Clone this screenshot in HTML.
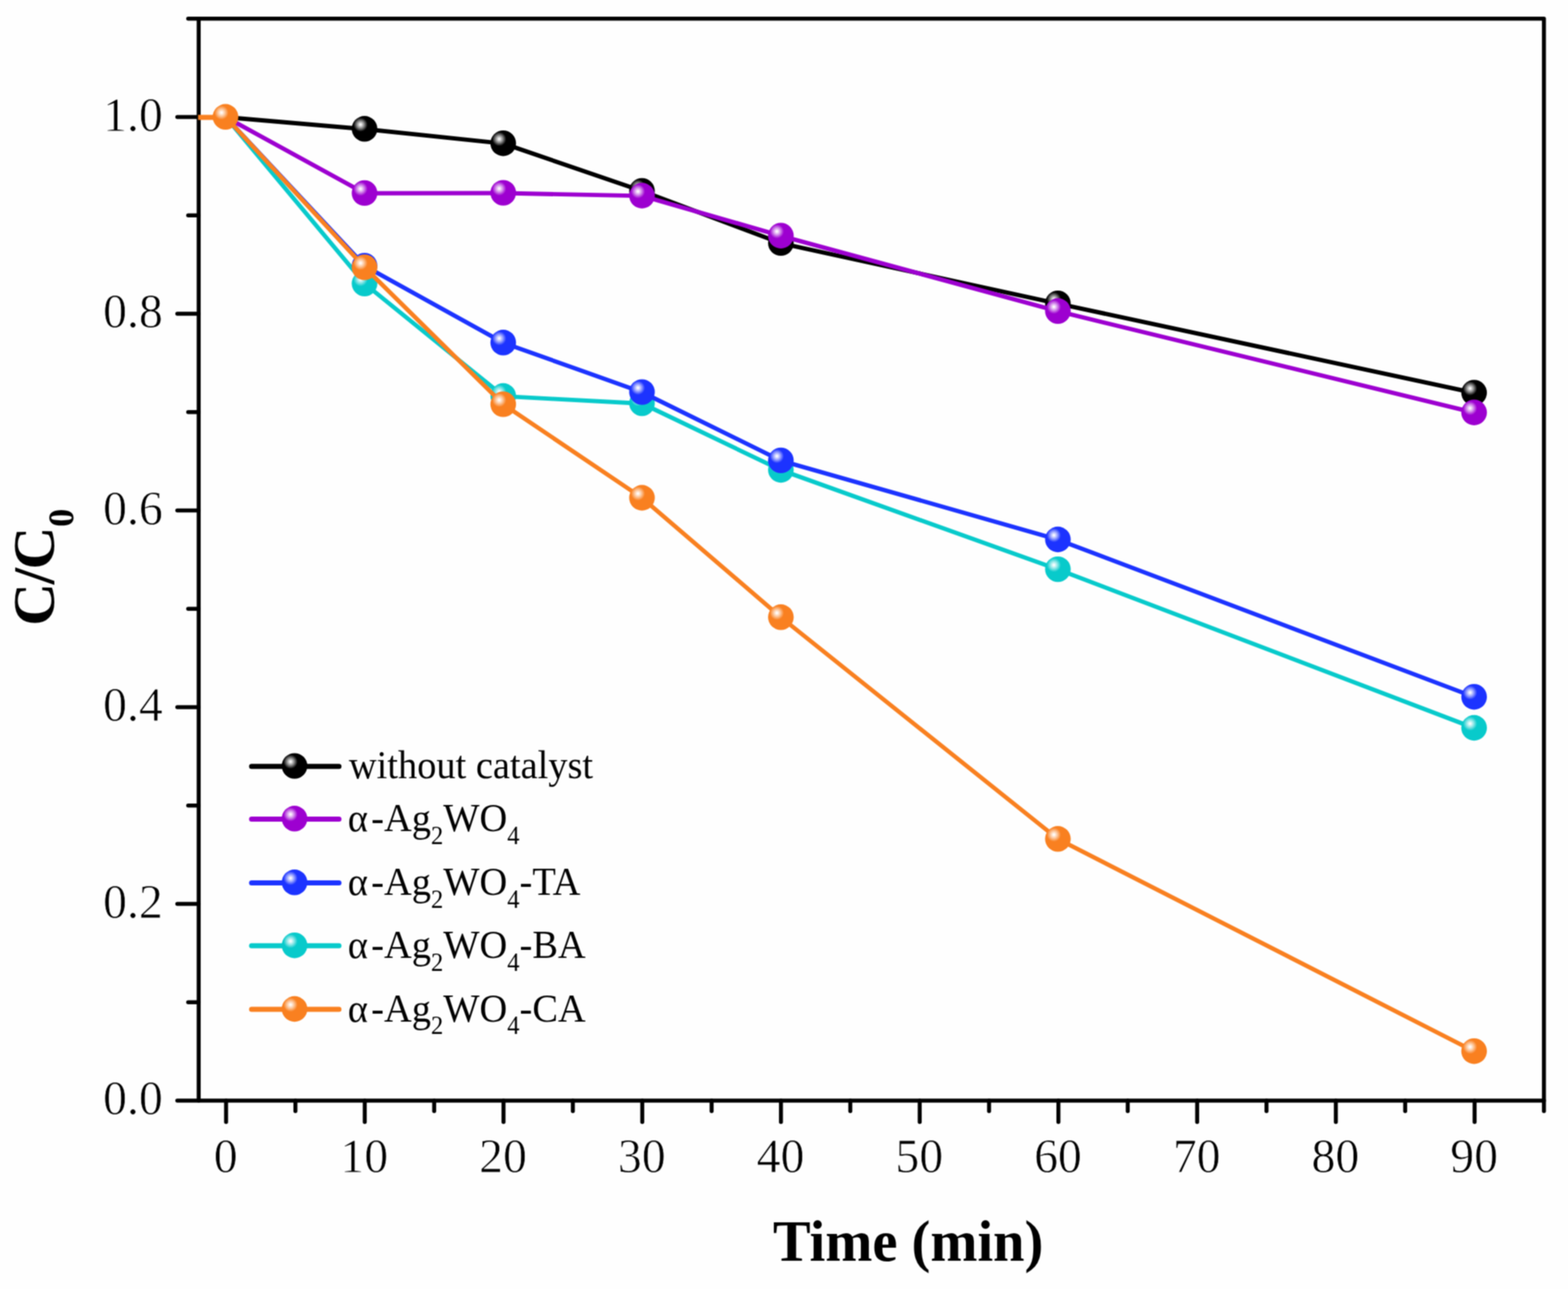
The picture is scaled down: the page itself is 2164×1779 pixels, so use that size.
<!DOCTYPE html>
<html lang="en"><head><meta charset="utf-8"><title>C/C0 versus Time (min)</title>
<style>
html,body{margin:0;padding:0;background:#fefefe;}
body{width:2164px;height:1779px;overflow:hidden;}
svg{display:block;}
text{font-family:"Liberation Serif", "Times New Roman", Times, serif;fill:#000;}
.tick{font-size:65.9px;stroke:#fefefe;stroke-width:0.8px;paint-order:fill stroke;}
.leg{font-size:53px;}
.sub{font-size:34px;}
.title{font-size:78px;font-weight:bold;}
.tsub{font-size:48px;font-weight:bold;}
</style></head><body>
<svg xmlns="http://www.w3.org/2000/svg" width="2164" height="1779" viewBox="0 0 2164 1779">
<defs>
<filter id="soft" x="0" y="0" width="2164" height="1779" filterUnits="userSpaceOnUse" color-interpolation-filters="sRGB"><feConvolveMatrix order="3" kernelMatrix="1 2 1 2 4 2 1 2 1" divisor="16" edgeMode="duplicate" preserveAlpha="true"/></filter>
<radialGradient id="gk" gradientUnits="objectBoundingBox" cx="0.344" cy="0.335" r="0.275" fx="0.344" fy="0.335"><stop offset="0" stop-color="#ffffff"/><stop offset="0.1" stop-color="#ffffff" stop-opacity="0.96"/><stop offset="0.55" stop-color="#ffffff" stop-opacity="0.5"/><stop offset="1" stop-color="#ffffff" stop-opacity="0"/></radialGradient>
<radialGradient id="gp" gradientUnits="objectBoundingBox" cx="0.344" cy="0.335" r="0.275" fx="0.344" fy="0.335"><stop offset="0" stop-color="#ffffff"/><stop offset="0.1" stop-color="#ffffff" stop-opacity="0.96"/><stop offset="0.55" stop-color="#ffffff" stop-opacity="0.5"/><stop offset="1" stop-color="#ffffff" stop-opacity="0"/></radialGradient>
<radialGradient id="gc" gradientUnits="objectBoundingBox" cx="0.344" cy="0.335" r="0.275" fx="0.344" fy="0.335"><stop offset="0" stop-color="#ffffff"/><stop offset="0.1" stop-color="#ffffff" stop-opacity="0.96"/><stop offset="0.55" stop-color="#ffffff" stop-opacity="0.5"/><stop offset="1" stop-color="#ffffff" stop-opacity="0"/></radialGradient>
<radialGradient id="gb" gradientUnits="objectBoundingBox" cx="0.344" cy="0.335" r="0.275" fx="0.344" fy="0.335"><stop offset="0" stop-color="#ffffff"/><stop offset="0.1" stop-color="#ffffff" stop-opacity="0.96"/><stop offset="0.55" stop-color="#ffffff" stop-opacity="0.5"/><stop offset="1" stop-color="#ffffff" stop-opacity="0"/></radialGradient>
<radialGradient id="go" gradientUnits="objectBoundingBox" cx="0.344" cy="0.335" r="0.275" fx="0.344" fy="0.335"><stop offset="0" stop-color="#ffffff"/><stop offset="0.1" stop-color="#ffffff" stop-opacity="0.96"/><stop offset="0.55" stop-color="#ffffff" stop-opacity="0.5"/><stop offset="1" stop-color="#ffffff" stop-opacity="0"/></radialGradient>
<clipPath id="plot"><rect x="273.4" y="25.8" width="1857.4" height="1493.1000000000001"/></clipPath>
</defs>
<g filter="url(#soft)">
<rect x="0" y="0" width="2164" height="1779" fill="#fefefe"/>
<g stroke="#000" stroke-width="5.5" fill="none" stroke-linecap="round" stroke-linejoin="round">
<path d="M274.2,25.8 H2130.8 V1518.9 H274.2 Z"/>
<line x1="312.0" y1="1518.9" x2="312.0" y2="1548.4"/>
<line x1="407.7" y1="1518.9" x2="407.7" y2="1533.4"/>
<line x1="503.4" y1="1518.9" x2="503.4" y2="1548.4"/>
<line x1="599.2" y1="1518.9" x2="599.2" y2="1533.4"/>
<line x1="694.9" y1="1518.9" x2="694.9" y2="1548.4"/>
<line x1="790.6" y1="1518.9" x2="790.6" y2="1533.4"/>
<line x1="886.4" y1="1518.9" x2="886.4" y2="1548.4"/>
<line x1="982.1" y1="1518.9" x2="982.1" y2="1533.4"/>
<line x1="1077.8" y1="1518.9" x2="1077.8" y2="1548.4"/>
<line x1="1173.5" y1="1518.9" x2="1173.5" y2="1533.4"/>
<line x1="1269.3" y1="1518.9" x2="1269.3" y2="1548.4"/>
<line x1="1365.0" y1="1518.9" x2="1365.0" y2="1533.4"/>
<line x1="1460.7" y1="1518.9" x2="1460.7" y2="1548.4"/>
<line x1="1556.4" y1="1518.9" x2="1556.4" y2="1533.4"/>
<line x1="1652.2" y1="1518.9" x2="1652.2" y2="1548.4"/>
<line x1="1747.9" y1="1518.9" x2="1747.9" y2="1533.4"/>
<line x1="1843.6" y1="1518.9" x2="1843.6" y2="1548.4"/>
<line x1="1939.3" y1="1518.9" x2="1939.3" y2="1533.4"/>
<line x1="2035.1" y1="1518.9" x2="2035.1" y2="1548.4"/>
<line x1="2130.8" y1="1518.9" x2="2130.8" y2="1533.4"/>
<line x1="274.2" y1="1518.9" x2="244.7" y2="1518.9"/>
<line x1="274.2" y1="1383.2" x2="259.7" y2="1383.2"/>
<line x1="274.2" y1="1247.4" x2="244.7" y2="1247.4"/>
<line x1="274.2" y1="1111.7" x2="259.7" y2="1111.7"/>
<line x1="274.2" y1="976.0" x2="244.7" y2="976.0"/>
<line x1="274.2" y1="840.2" x2="259.7" y2="840.2"/>
<line x1="274.2" y1="704.5" x2="244.7" y2="704.5"/>
<line x1="274.2" y1="568.7" x2="259.7" y2="568.7"/>
<line x1="274.2" y1="433.0" x2="244.7" y2="433.0"/>
<line x1="274.2" y1="297.3" x2="259.7" y2="297.3"/>
<line x1="274.2" y1="161.5" x2="244.7" y2="161.5"/>
<line x1="274.2" y1="25.8" x2="259.7" y2="25.8"/>
</g>
<g clip-path="url(#plot)">
<polyline points="311.6,161.7 503.5,178.2 694.9,198.1 886.4,263.8 1078.1,335.8 1460.4,419.1 2034.8,542.3" fill="none" stroke="#000000" stroke-width="5.9" stroke-linejoin="round" stroke-linecap="butt"/>
<circle cx="503.1" cy="177.8" r="17.7" fill="#000000"/><circle cx="503.1" cy="177.8" r="17.7" fill="url(#gk)"/>
<circle cx="694.5" cy="197.7" r="17.7" fill="#000000"/><circle cx="694.5" cy="197.7" r="17.7" fill="url(#gk)"/>
<circle cx="886.0" cy="263.4" r="17.7" fill="#000000"/><circle cx="886.0" cy="263.4" r="17.7" fill="url(#gk)"/>
<circle cx="1077.7" cy="335.4" r="17.7" fill="#000000"/><circle cx="1077.7" cy="335.4" r="17.7" fill="url(#gk)"/>
<circle cx="1460.0" cy="418.7" r="17.7" fill="#000000"/><circle cx="1460.0" cy="418.7" r="17.7" fill="url(#gk)"/>
<circle cx="2034.4" cy="541.9" r="17.7" fill="#000000"/><circle cx="2034.4" cy="541.9" r="17.7" fill="url(#gk)"/>
<polyline points="311.6,161.7 503.5,266.8 694.9,266.5 886.4,270.4 1078.1,325.6 1460.4,429.7 2034.8,569.6" fill="none" stroke="#9d00d0" stroke-width="5.9" stroke-linejoin="round" stroke-linecap="butt"/>
<circle cx="503.1" cy="266.4" r="17.7" fill="#9d00d0"/><circle cx="503.1" cy="266.4" r="17.7" fill="url(#gp)"/>
<circle cx="694.5" cy="266.1" r="17.7" fill="#9d00d0"/><circle cx="694.5" cy="266.1" r="17.7" fill="url(#gp)"/>
<circle cx="886.0" cy="270.0" r="17.7" fill="#9d00d0"/><circle cx="886.0" cy="270.0" r="17.7" fill="url(#gp)"/>
<circle cx="1077.7" cy="325.2" r="17.7" fill="#9d00d0"/><circle cx="1077.7" cy="325.2" r="17.7" fill="url(#gp)"/>
<circle cx="1460.0" cy="429.3" r="17.7" fill="#9d00d0"/><circle cx="1460.0" cy="429.3" r="17.7" fill="url(#gp)"/>
<circle cx="2034.4" cy="569.2" r="17.7" fill="#9d00d0"/><circle cx="2034.4" cy="569.2" r="17.7" fill="url(#gp)"/>
<polyline points="311.6,161.7 503.5,391.7 694.9,546.9 886.4,557.0 1078.1,648.9 1460.4,786.0 2034.8,1004.9" fill="none" stroke="#08cacb" stroke-width="5.9" stroke-linejoin="round" stroke-linecap="butt"/>
<circle cx="503.1" cy="391.3" r="17.7" fill="#08cacb"/><circle cx="503.1" cy="391.3" r="17.7" fill="url(#gc)"/>
<circle cx="694.5" cy="546.5" r="17.7" fill="#08cacb"/><circle cx="694.5" cy="546.5" r="17.7" fill="url(#gc)"/>
<circle cx="886.0" cy="556.6" r="17.7" fill="#08cacb"/><circle cx="886.0" cy="556.6" r="17.7" fill="url(#gc)"/>
<circle cx="1077.7" cy="648.5" r="17.7" fill="#08cacb"/><circle cx="1077.7" cy="648.5" r="17.7" fill="url(#gc)"/>
<circle cx="1460.0" cy="785.6" r="17.7" fill="#08cacb"/><circle cx="1460.0" cy="785.6" r="17.7" fill="url(#gc)"/>
<circle cx="2034.4" cy="1004.5" r="17.7" fill="#08cacb"/><circle cx="2034.4" cy="1004.5" r="17.7" fill="url(#gc)"/>
<polyline points="311.6,161.7 503.5,367.1 694.9,473.2 886.4,541.5 1078.1,635.8 1460.4,744.9 2034.8,962.1" fill="none" stroke="#1c33ff" stroke-width="5.9" stroke-linejoin="round" stroke-linecap="butt"/>
<circle cx="503.1" cy="366.7" r="17.7" fill="#1c33ff"/><circle cx="503.1" cy="366.7" r="17.7" fill="url(#gb)"/>
<circle cx="694.5" cy="472.8" r="17.7" fill="#1c33ff"/><circle cx="694.5" cy="472.8" r="17.7" fill="url(#gb)"/>
<circle cx="886.0" cy="541.1" r="17.7" fill="#1c33ff"/><circle cx="886.0" cy="541.1" r="17.7" fill="url(#gb)"/>
<circle cx="1077.7" cy="635.4" r="17.7" fill="#1c33ff"/><circle cx="1077.7" cy="635.4" r="17.7" fill="url(#gb)"/>
<circle cx="1460.0" cy="744.5" r="17.7" fill="#1c33ff"/><circle cx="1460.0" cy="744.5" r="17.7" fill="url(#gb)"/>
<circle cx="2034.4" cy="961.7" r="17.7" fill="#1c33ff"/><circle cx="2034.4" cy="961.7" r="17.7" fill="url(#gb)"/>
<polyline points="311.6,161.7 503.5,369.3 694.9,558.3 886.4,687.4 1078.1,852.2 1460.4,1158.2 2034.8,1451.1" fill="none" stroke="#f98020" stroke-width="5.9" stroke-linejoin="round" stroke-linecap="butt"/>
<line x1="271.2" y1="162.0" x2="311.2" y2="162.0" stroke="#f98020" stroke-width="6.8"/>
<circle cx="311.2" cy="161.3" r="17.7" fill="#f98020"/><circle cx="311.2" cy="161.3" r="17.7" fill="url(#go)"/>
<circle cx="503.1" cy="368.9" r="17.7" fill="#f98020"/><circle cx="503.1" cy="368.9" r="17.7" fill="url(#go)"/>
<circle cx="694.5" cy="557.9" r="17.7" fill="#f98020"/><circle cx="694.5" cy="557.9" r="17.7" fill="url(#go)"/>
<circle cx="886.0" cy="687.0" r="17.7" fill="#f98020"/><circle cx="886.0" cy="687.0" r="17.7" fill="url(#go)"/>
<circle cx="1077.7" cy="851.8" r="17.7" fill="#f98020"/><circle cx="1077.7" cy="851.8" r="17.7" fill="url(#go)"/>
<circle cx="1460.0" cy="1157.8" r="17.7" fill="#f98020"/><circle cx="1460.0" cy="1157.8" r="17.7" fill="url(#go)"/>
<circle cx="2034.4" cy="1450.7" r="17.7" fill="#f98020"/><circle cx="2034.4" cy="1450.7" r="17.7" fill="url(#go)"/>
</g>
<text class="tick" transform="translate(311.4,1618.4) scale(1,1.04)" text-anchor="middle">0</text>
<text class="tick" transform="translate(502.8,1618.4) scale(1,1.04)" text-anchor="middle">10</text>
<text class="tick" transform="translate(694.3,1618.4) scale(1,1.04)" text-anchor="middle">20</text>
<text class="tick" transform="translate(885.8,1618.4) scale(1,1.04)" text-anchor="middle">30</text>
<text class="tick" transform="translate(1077.2,1618.4) scale(1,1.04)" text-anchor="middle">40</text>
<text class="tick" transform="translate(1268.7,1618.4) scale(1,1.04)" text-anchor="middle">50</text>
<text class="tick" transform="translate(1460.1,1618.4) scale(1,1.04)" text-anchor="middle">60</text>
<text class="tick" transform="translate(1651.6,1618.4) scale(1,1.04)" text-anchor="middle">70</text>
<text class="tick" transform="translate(1843.0,1618.4) scale(1,1.04)" text-anchor="middle">80</text>
<text class="tick" transform="translate(2034.5,1618.4) scale(1,1.04)" text-anchor="middle">90</text>
<text class="tick" transform="translate(224.7,1538.2) scale(1,1.04)" text-anchor="end">0.0</text>
<text class="tick" transform="translate(224.7,1266.7) scale(1,1.04)" text-anchor="end">0.2</text>
<text class="tick" transform="translate(224.7,995.3) scale(1,1.04)" text-anchor="end">0.4</text>
<text class="tick" transform="translate(224.7,723.8) scale(1,1.04)" text-anchor="end">0.6</text>
<text class="tick" transform="translate(224.7,452.3) scale(1,1.04)" text-anchor="end">0.8</text>
<text class="tick" transform="translate(224.7,180.8) scale(1,1.04)" text-anchor="end">1.0</text>
<text class="title" transform="translate(1253.3,1739.8) scale(1,1.036)" text-anchor="middle">Time (min)</text>
<text class="title" style="letter-spacing:-1.95px" transform="translate(74.2,783.9) rotate(-90) scale(1.05,1.036)" text-anchor="middle">C/C<tspan class="tsub" dy="25.6" dx="1.5">0</tspan></text>
<line x1="347.2" y1="1057.7" x2="467.8" y2="1057.7" stroke="#000000" stroke-width="7.0" stroke-linecap="round"/>
<circle cx="406.5" cy="1057.1" r="17.7" fill="#000000"/><circle cx="406.5" cy="1057.1" r="17.7" fill="url(#gk)"/>
<text class="leg" transform="translate(481.5,1074.3) scale(1,1.036)">without catalyst</text>
<line x1="347.2" y1="1130.4" x2="467.8" y2="1130.4" stroke="#9d00d0" stroke-width="7.0" stroke-linecap="round"/>
<circle cx="406.5" cy="1129.8" r="17.7" fill="#9d00d0"/><circle cx="406.5" cy="1129.8" r="17.7" fill="url(#gp)"/>
<text class="leg" transform="translate(481.5,1147.0) scale(1,1.036)"><tspan dx="-1.5">α</tspan><tspan dx="4.5">-Ag</tspan><tspan class="sub" dy="17">2</tspan><tspan dy="-17">WO</tspan><tspan class="sub" dy="17">4</tspan></text>
<line x1="347.2" y1="1218.4" x2="467.8" y2="1218.4" stroke="#1c33ff" stroke-width="7.0" stroke-linecap="round"/>
<circle cx="406.5" cy="1217.8" r="17.7" fill="#1c33ff"/><circle cx="406.5" cy="1217.8" r="17.7" fill="url(#gb)"/>
<text class="leg" transform="translate(481.5,1235.0) scale(1,1.036)"><tspan dx="-1.5">α</tspan><tspan dx="4.5">-Ag</tspan><tspan class="sub" dy="17">2</tspan><tspan dy="-17">WO</tspan><tspan class="sub" dy="17">4</tspan><tspan dy="-17">-TA</tspan></text>
<line x1="347.2" y1="1305.3" x2="467.8" y2="1305.3" stroke="#08cacb" stroke-width="7.0" stroke-linecap="round"/>
<circle cx="406.5" cy="1304.7" r="17.7" fill="#08cacb"/><circle cx="406.5" cy="1304.7" r="17.7" fill="url(#gc)"/>
<text class="leg" transform="translate(481.5,1321.9) scale(1,1.036)"><tspan dx="-1.5">α</tspan><tspan dx="4.5">-Ag</tspan><tspan class="sub" dy="17">2</tspan><tspan dy="-17">WO</tspan><tspan class="sub" dy="17">4</tspan><tspan dy="-17">-BA</tspan></text>
<line x1="347.2" y1="1393.1" x2="467.8" y2="1393.1" stroke="#f98020" stroke-width="7.0" stroke-linecap="round"/>
<circle cx="406.5" cy="1392.5" r="17.7" fill="#f98020"/><circle cx="406.5" cy="1392.5" r="17.7" fill="url(#go)"/>
<text class="leg" transform="translate(481.5,1409.7) scale(1,1.036)"><tspan dx="-1.5">α</tspan><tspan dx="4.5">-Ag</tspan><tspan class="sub" dy="17">2</tspan><tspan dy="-17">WO</tspan><tspan class="sub" dy="17">4</tspan><tspan dy="-17">-CA</tspan></text>
</g>
</svg>
</body></html>
